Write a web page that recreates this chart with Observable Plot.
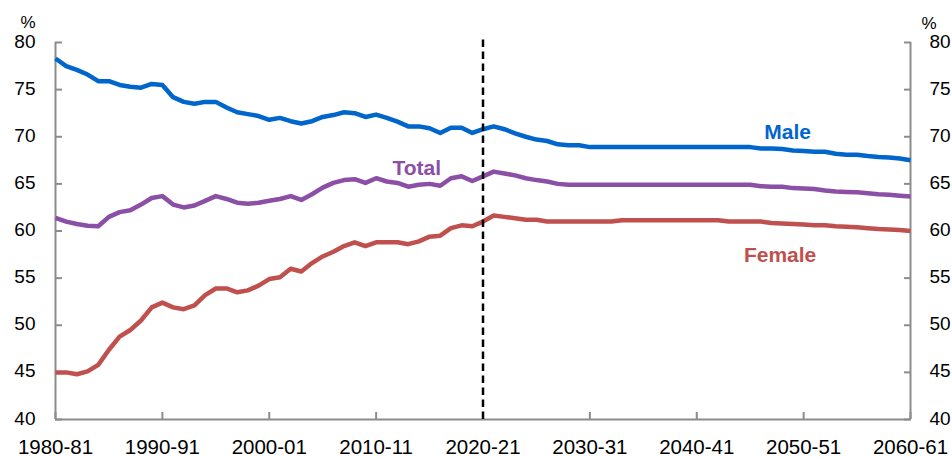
<!DOCTYPE html>
<html><head><meta charset="utf-8">
<script src="https://cdn.jsdelivr.net/npm/d3@7"></script>
<script src="https://cdn.jsdelivr.net/npm/@observablehq/plot@0.6"></script>
<style>body{margin:0;background:#fff} svg{font-family:"Liberation Sans",Arial,sans-serif}</style>
</head><body><div id="chart"></div>
<script>
// Financial years: 1980 = 1980-81 ... 2060 = 2060-61
const years = d3.range(1980, 2061);
const male = [
  78.3, 77.5, 77.1, 76.6, 75.9, 75.9, 75.5, 75.3, 75.2, 75.6,
  75.5, 74.2, 73.7, 73.5, 73.7, 73.7, 73.1, 72.6, 72.4, 72.2,
  71.8, 72.0, 71.65, 71.4, 71.65, 72.1, 72.3, 72.6, 72.5, 72.1,
  72.35, 72.0, 71.6, 71.1, 71.1, 70.9, 70.4, 70.95, 70.95, 70.4,
  70.8, 71.1, 70.8, 70.35, 70.0, 69.7, 69.55, 69.2, 69.1, 69.1,
  68.9, 68.9, 68.9, 68.9, 68.9, 68.9, 68.9, 68.9, 68.9, 68.9,
  68.9, 68.9, 68.9, 68.9, 68.9, 68.9, 68.75, 68.75, 68.7, 68.55,
  68.5, 68.4, 68.4, 68.2, 68.1, 68.1, 67.95, 67.85, 67.8, 67.7,
  67.5
];
const total = [
  61.4, 61.0, 60.75, 60.55, 60.5, 61.5, 62.0, 62.2, 62.8, 63.5,
  63.7, 62.8, 62.5, 62.7, 63.2, 63.7, 63.4, 63.0, 62.9, 63.0,
  63.2, 63.4, 63.7, 63.3, 63.9, 64.6, 65.1, 65.4, 65.5, 65.1,
  65.6, 65.25, 65.1, 64.7, 64.9, 65.0, 64.8, 65.6, 65.8, 65.3,
  65.8, 66.3, 66.1, 65.9, 65.6, 65.4, 65.25, 65.0, 64.9, 64.9,
  64.9, 64.9, 64.9, 64.9, 64.9, 64.9, 64.9, 64.9, 64.9, 64.9,
  64.9, 64.9, 64.9, 64.9, 64.9, 64.9, 64.75, 64.7, 64.7, 64.55,
  64.5, 64.45, 64.3, 64.2, 64.15, 64.1, 64.0, 63.9, 63.85, 63.75,
  63.65
];
const female = [
  45.0, 45.0, 44.8, 45.1, 45.8, 47.4, 48.8, 49.5, 50.5, 51.9,
  52.4, 51.9, 51.7, 52.1, 53.2, 53.9, 53.9, 53.5, 53.7, 54.2,
  54.9, 55.1, 56.0, 55.7, 56.6, 57.3, 57.8, 58.4, 58.8, 58.4,
  58.8, 58.8, 58.8, 58.6, 58.9, 59.4, 59.5, 60.3, 60.6, 60.5,
  61.0, 61.65, 61.5, 61.35, 61.2, 61.2, 61.0, 61.0, 61.0, 61.0,
  61.0, 61.0, 61.0, 61.15, 61.15, 61.15, 61.15, 61.15, 61.15, 61.15,
  61.15, 61.15, 61.15, 61.0, 61.0, 61.0, 61.0, 60.85, 60.8, 60.75,
  60.7, 60.6, 60.6, 60.5, 60.45, 60.4, 60.3, 60.2, 60.15, 60.1,
  60.0
];
const seriesNames = ["Male", "Total", "Female"];
const seriesColors = ["#0066CC", "#8B4FA5", "#C0504D"];
const xTicks = [1980, 1990, 2000, 2010, 2020, 2030, 2040, 2050, 2060];
const xTickLabels = ["1980-81", "1990-91", "2000-01", "2010-11", "2020-21", "2030-31", "2040-41", "2050-51", "2060-61"];
const yTicks = [40, 45, 50, 55, 60, 65, 70, 75, 80];
const projectionStart = 2020;

const rows = [];
[male, total, female].forEach((vals, i) => {
  vals.forEach((v, j) => rows.push({series: seriesNames[i], year: years[j], value: v}));
});
const fmtX = d => xTickLabels[xTicks.indexOf(d)];
const axisGrey = "#8c8c8c";

const plot = Plot.plot({
  width: 952, height: 457,
  marginLeft: 55, marginRight: 42, marginTop: 42, marginBottom: 38,
  x: {domain: [1980, 2060]},
  y: {domain: [40, 80]},
  color: {domain: seriesNames, range: seriesColors},
  style: {fontFamily: '"Liberation Sans", Arial, sans-serif', fontSize: "19px", color: "#000", background: "#fff"},
  marks: [
    Plot.ruleY([40], {stroke: axisGrey, strokeWidth: 2}),
    Plot.ruleX([1980, 2060], {y1: 40, y2: 80, stroke: axisGrey, strokeWidth: 2}),
    // inward ticks
    Plot.axisY({anchor: "left", ticks: yTicks, tickSize: 7, dx: 7, fill: "none", label: null, stroke: axisGrey, strokeWidth: 2}),
    Plot.axisY({anchor: "right", ticks: yTicks, tickSize: 7, dx: -7, fill: "none", label: null, stroke: axisGrey, strokeWidth: 2}),
    Plot.axisX({anchor: "bottom", ticks: xTicks, tickSize: 7, dy: -7, fill: "none", label: null, stroke: axisGrey, strokeWidth: 2}),
    // labels
    Plot.axisY({anchor: "left", ticks: yTicks, tickSize: 0, tickPadding: 20, label: null, fontSize: 19, dy: -1}),
    Plot.axisY({anchor: "right", ticks: yTicks, tickSize: 0, tickPadding: 19, label: null, fontSize: 19, dy: -1}),
    Plot.axisX({anchor: "bottom", ticks: xTicks, tickSize: 0, tickPadding: 20, tickFormat: fmtX, label: null, fontSize: 20.5}),
    Plot.text(["%"], {frameAnchor: "top-left", dx: -35, dy: -27, fontSize: 17}),
    Plot.text(["%"], {frameAnchor: "top-right", dx: 26, dy: -26, fontSize: 17}),
    Plot.line(rows, {x: "year", y: "value", stroke: "series", z: "series", strokeWidth: 4.5, strokeLinejoin: "round", strokeLinecap: "butt"}),
    Plot.ruleX([projectionStart], {y1: 40, y2: 80.5, stroke: "#000", strokeWidth: 2.5, strokeDasharray: "7.5,4.5"}),
    Plot.text(["Male"], {x: 2048.5, y: 70.45, fill: seriesColors[0], fontWeight: "bold", fontSize: 21}),
    Plot.text(["Total"], {x: 2013.8, y: 66.7, fill: seriesColors[1], fontWeight: "bold", fontSize: 21}),
    Plot.text(["Female"], {x: 2047.8, y: 57.4, fill: seriesColors[2], fontWeight: "bold", fontSize: 21})
  ]
});
document.getElementById("chart").appendChild(plot);
</script>
</body></html>
